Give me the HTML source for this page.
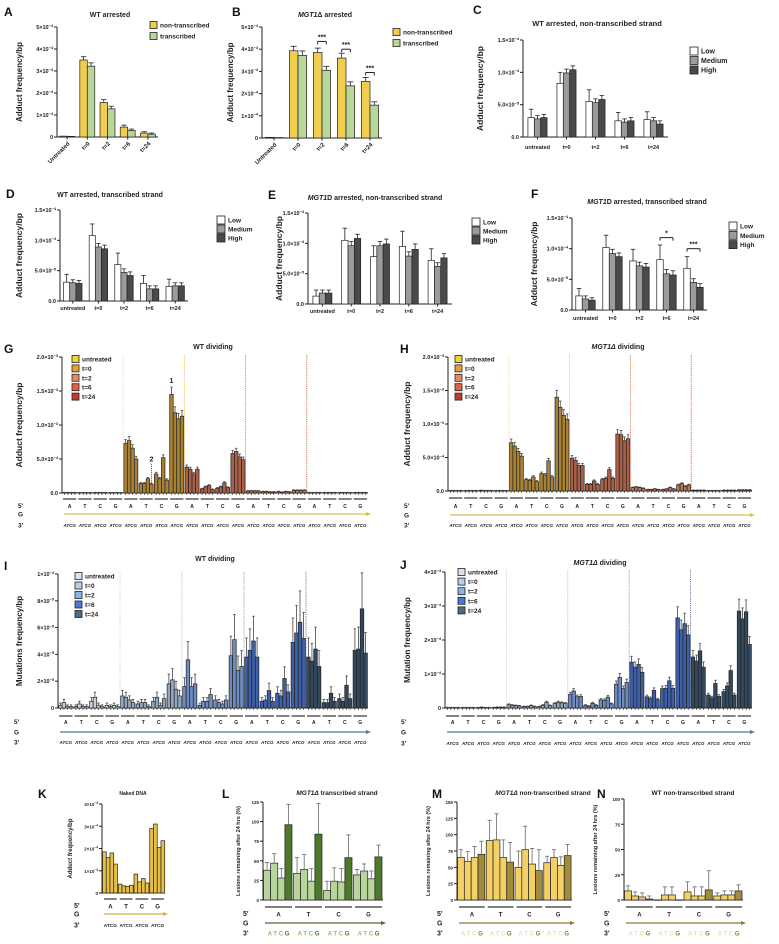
<!DOCTYPE html>
<html><head><meta charset="utf-8"><style>
html,body{margin:0;padding:0;background:#fff;}
svg{display:block;font-family:"Liberation Sans",Arial,sans-serif;}
</style></head><body>
<svg id="fig" width="779" height="944" viewBox="0 0 779 944"></svg>
<script>
// ---------- DATA ----------
const catsArr = ['Untreated','t=0','t=2','t=6','t=24'];
const catsLow = ['untreated','t=0','t=2','t=6','t=24'];
const tickA = [0,1,2,3,4,5];
const tickLabA = ['0','1×10^-4','2×10^-4','3×10^-4','4×10^-4','5×10^-4'];
const aNon = [0.04,3.5,1.57,0.45,0.18];
const aTr = [0.03,3.22,1.28,0.30,0.13];
const aNonErr = [0.01,0.15,0.13,0.09,0.06];
const aTrErr = [0.01,0.15,0.12,0.06,0.05];
const bNon = [0.03,3.93,3.85,3.6,2.55];
const bTr = [0.02,3.72,3.05,2.35,1.48];
const bNonErr = [0.01,0.2,0.2,0.22,0.18];
const bTrErr = [0.01,0.2,0.18,0.18,0.15];
const tickC = [0,5,10,15];
const tickLabC = ['0.0','5.0×10^-5','1.0×10^-4','1.5×10^-4'];
const cLow=[3.0,8.3,5.5,2.5,2.7], cMed=[2.8,9.9,5.3,2.3,2.5], cHigh=[3.0,10.4,5.8,2.5,2.0];
const cLowE=[1.3,1.7,1.8,1.3,1.2], cMedE=[0.5,0.6,0.6,0.5,0.5], cHighE=[0.5,0.6,0.6,0.5,0.5];
const dLow=[3.1,10.8,6.0,2.9,2.4], dMed=[3.0,8.9,4.7,2.0,2.5], dHigh=[2.9,8.6,4.2,2.0,2.5];
const dLowE=[1.3,1.9,1.9,1.3,1.2], dMedE=[0.5,0.6,0.6,0.5,0.5], dHighE=[0.5,0.6,0.6,0.5,0.5];
const eLow=[1.3,10.5,7.8,9.5,7.2], eMed=[1.8,9.6,9.6,7.9,6.2], eHigh=[1.8,10.8,9.9,9.0,7.6];
const eLowE=[1.0,2.0,1.8,2.5,1.9], eMedE=[0.5,0.7,0.7,0.7,0.6], eHighE=[0.5,0.7,0.8,0.9,0.7];
const fLow=[2.3,10.2,8.0,8.2,6.8], fMed=[1.8,9.2,7.2,5.9,4.5], fHigh=[1.6,8.7,7.0,5.7,3.7];
const fLowE=[1.2,2.0,1.9,2.4,1.9], fMedE=[0.5,0.7,0.6,0.7,0.6], fHighE=[0.4,0.6,0.6,0.7,0.6];

const tickG = [0,5,10,15,20];
const tickLabG = ['0.0','5.0×10^-4','1.0×10^-3','1.5×10^-3','2.0×10^-3'];
const gUntr=[0.05,0.05,0.05,0.05,0.04,0.04,0.04,0.04,0.05,0.05,0.05,0.05,0.04,0.04,0.04,0.04];
const gT0=[7.3,7.7,6.6,5.0,1.4,1.4,2.1,1.3,2.8,2.1,5.2,1.9,14.5,11.8,10.9,11.3];
const gT2=[3.8,3.5,2.8,3.5,0.6,0.9,1.1,0.5,0.7,0.9,1.5,0.8,5.8,6.1,5.3,4.9];
const gT6=[0.3,0.3,0.3,0.3,0.2,0.2,0.15,0.15,0.2,0.1,0.2,0.15,0.4,0.4,0.4,0.4];
const gT24=[0.05,0.05,0.05,0.05,0.05,0.05,0.05,0.05,0.05,0.05,0.05,0.05,0.05,0.05,0.05,0.05];
const hUntr=[0.05,0.05,0.05,0.05,0.05,0.05,0.05,0.05,0.08,0.05,0.05,0.05,0.05,0.05,0.05,0.05];
const hT0=[7.2,6.7,5.9,5.2,1.7,1.6,2.1,1.4,2.6,2.4,4.5,2.1,14.0,12.5,11.3,10.7];
const hT2=[4.9,4.6,3.8,3.8,1.0,1.0,1.5,1.0,1.7,1.9,3.2,1.9,8.5,8.4,7.5,7.8];
const hT6=[0.5,0.6,0.5,0.4,0.2,0.2,0.3,0.2,0.2,0.3,0.5,0.3,0.9,1.1,0.7,0.9];
const hT24=[0.1,0.1,0.1,0.1,0.05,0.05,0.05,0.05,0.1,0.1,0.1,0.1,0.15,0.15,0.15,0.15];
const tickI=[0,2,4,6,8,10];
const tickLabI=['0','2×10^-5','4×10^-5','6×10^-5','8×10^-5','1×10^-4'];
const iUntr=[0.2,0.4,0.1,0.1,0.1,0.3,0.1,0.1,0.5,0.8,0.2,0.1,0.2,0.1,0.2,0.1];
const iT0=[0.9,0.8,0.6,0.4,0.3,0.4,0.4,0.1,0.5,0.8,0.2,0.7,1.8,2.1,1.4,0.9];
const iT2=[1.6,3.6,1.6,1.8,0.2,0.5,0.5,1.0,0.6,0.4,0.3,0.6,3.9,5.1,2.8,3.1];
const iT6=[3.8,4.3,5.0,3.8,0.5,0.6,1.3,0.5,1.1,0.9,2.2,1.2,4.9,5.6,6.4,5.2];
const iT24=[3.8,3.5,4.4,3.1,0.4,0.4,1.1,0.5,0.7,0.5,1.7,0.7,4.3,4.4,7.4,4.1];
const tickJ=[0,1,2,3,4];
const tickLabJ=['0','1×10^-4','2×10^-4','3×10^-4','4×10^-4'];
const jUntr=[0.01,0.01,0.01,0.01,0.01,0.01,0.01,0.01,0.01,0.02,0.01,0.01,0.01,0.02,0.02,0.02];
const jT0=[0.1,0.08,0.07,0.06,0.04,0.04,0.07,0.04,0.04,0.08,0.17,0.07,0.13,0.17,0.15,0.14];
const jT2=[0.4,0.5,0.33,0.34,0.08,0.05,0.14,0.08,0.24,0.23,0.32,0.12,0.7,0.9,0.57,0.75];
const jT6=[1.35,1.2,1.28,1.05,0.33,0.28,0.52,0.25,0.57,0.58,0.8,0.58,2.65,2.3,2.48,2.15];
const jT24=[1.5,1.38,1.68,1.2,0.38,0.3,0.72,0.34,0.48,0.65,1.1,0.38,2.85,2.62,2.83,1.87];
const kVals=[1.85,1.6,1.8,1.3,0.4,0.32,0.3,0.35,0.85,0.5,0.65,0.45,2.9,3.1,2.05,2.35];
const tickK=[0,1,2,3,4];
const tickLabK=['0','1×10^-4','2×10^-4','3×10^-4','4×10^-4'];
const lVals=[38,47,28,96,34,39,24,84,12,24,23,54,32,37,27,55];
const lErr=[10,12,12,26,20,19,16,39,12,17,17,29,7,9,10,15];
const mVals=[65,59,65,70,91,92,65,58,50,77,55,45,57,65,53,68];
const mErr=[12,15,17,20,31,40,27,30,25,36,24,32,10,12,13,17];
const nVals=[9,4,3,1,0,5,5,0,8,4,4,10,4,5,5,9];
const nErr=[5,4,4,3,0,8,8,0,10,9,9,19,3,4,4,6];
const tickL=[0,25,50,75,100,125], tickM=[0,25,50,75,100,125,150], tickN=[0,25,50,75,100];

// ---------- HELPERS ----------
const NS='http://www.w3.org/2000/svg';
const svg=document.getElementById('fig');
function mk(tag,a,p){const e=document.createElementNS(NS,tag);for(const k in a)e.setAttribute(k,a[k]);(p||svg).appendChild(e);return e;}
function T(p,x,y,s,size,opt){opt=opt||{};const e=mk('text',{x:x,y:y,'font-size':size,'font-weight':opt.w||'bold','text-anchor':opt.a||'start',fill:opt.c||'#222'},p);
 if(opt.i)e.setAttribute('font-style','italic');if(opt.r!==undefined)e.setAttribute('transform','rotate('+opt.r+' '+x+' '+y+')');
 if(s.indexOf('^')>=0){const parts=s.split('^');const a=mk('tspan',{},e);a.textContent=parts[0];const b=mk('tspan',{dy:-size*0.4,'font-size':size*0.7},e);b.textContent=parts[1].replace('-','−');}
 else e.textContent=s;return e;}
function line(p,x1,y1,x2,y2,c,w,d){const e=mk('line',{x1:x1,y1:y1,x2:x2,y2:y2,stroke:c||'#222','stroke-width':w||1},p);if(d)e.setAttribute('stroke-dasharray',d);return e;}
function panelLabel(x,y,s){const e=T(svg,x,y,s,12,{c:'#111'});
 
 }
function title(p,x,y,parts,size){const e=mk('text',{x:x,y:y,'font-size':size||7,'font-weight':'bold','text-anchor':'middle',fill:'#222'},p);
 
 
 parts.forEach(pt=>{const s=mk('tspan',{},e);if(pt[1])s.setAttribute('font-style','italic');s.textContent=pt[0];});}
function yAxis(p,o,ticks,labs){const ys=v=>o.yb-(v/o.max)*(o.yb-o.yt);
 const ax=line(p,o.x0,o.yb,o.x0,ys(ticks[ticks.length-1]),'#222',1);
 
 
 ticks.forEach((t,i)=>{line(p,o.x0-3,ys(t),o.x0,ys(t));const l=T(p,o.x0-4,ys(t)+2,labs[i],o.tf||5.5,{a:'end'});
  
  });
 const xa=line(p,o.x0,o.yb,o.x1,o.yb,'#222',1);
 
 
 const yt=T(p,o.ytx,(o.yb+o.yt)/2,o.ytitle,o.ytf||8,{a:'middle',r:-90});
 
 
 return ys;}
function bar(p,x,y0,y1,w,fill,name){const r=mk('rect',{x:x,y:Math.min(y0,y1),width:w,height:Math.max(0.3,Math.abs(y0-y1)),fill:fill,stroke:'#222','stroke-width':0.7},p);
 
 return r;}
function err(p,cx,ytop,yerr,cap,c){if(Math.abs(ytop-yerr)<0.3)return;line(p,cx,ytop,cx,yerr,c||'#222',0.8);line(p,cx-cap,yerr,cx+cap,yerr,c||'#222',0.8);}
function legend(p,x,y,step,labels,colors,size,fs){labels.forEach((l,i)=>{const g=mk('g',{},p);
 
 
 mk('rect',{x:x,y:y+i*step-size/2,width:size,height:size,fill:colors[i],stroke:'#222','stroke-width':0.8},g);
 T(g,x+size+3,y+i*step+fs*0.38,l,fs,{});});}
function group(name){const g=mk('g',{});
 
 return g;}

// ---------- SIMPLE GROUPED CHARTS ----------
function simple(o){const g=group(o.name);
 const ys=yAxis(g,o,o.ticks,o.tlabs);
 const n=o.cats.length,k=o.series.length,gw=(o.x1-o.x0)/n,bw=gw*o.bwf;
 o.cats.forEach((c,i)=>{const cx=o.x0+gw*(i+0.5);
  line(g,cx,o.yb,cx,o.yb+2.5);
  const cl=o.rot?T(g,cx+3,o.yb+7,c,6,{a:'end',r:-45}):T(g,cx,o.catY,c,5.5,{a:'middle'});
  
  
  o.series.forEach((s,j)=>{const x=cx-k*bw/2+j*bw;
   bar(g,x,ys(0),ys(s[i]),bw,o.colors[j],'bar-'+o.snames[j]+'-'+c);
   err(g,x+bw/2,ys(s[i]),ys(s[i]+o.errs[j][i]),bw*0.35);});});
 (o.sig||[]).forEach(sg=>{const cx=o.x0+gw*(sg[0]+0.5);const xa=cx-k*bw/2+bw/2,xb=cx-k*bw/2+(sg[2])*bw+bw/2;const yy=ys(sg[3]);
  line(g,xa,yy+3,xa,yy);line(g,xa,yy,xb,yy);line(g,xb,yy,xb,yy+3);
  const st=T(g,(xa+xb)/2,yy-2,sg[1],7,{a:'middle'});
  
  });
 return g;}

const yel='#f0cd4e',grn='#b8d59a';
panelLabel(4,16,'A');
let gA=simple({name:'chart-a',x0:57,x1:158,yb:137,yt:27,max:5,ticks:tickA,tlabs:tickLabA,cats:catsArr,series:[aNon,aTr],errs:[aNonErr,aTrErr],colors:[yel,grn],snames:['non-transcribed','transcribed'],bwf:0.37,rot:true,ytx:22,ytitle:'Adduct frequency/bp'});
title(gA,110,17,[['WT arrested',0]],7);
legend(gA,150,25,11,['non-transcribed','transcribed'],[yel,grn],7,6.5);

panelLabel(232,16,'B');
let gB=simple({name:'chart-b',x0:262,x1:382,yb:138,yt:27,max:5,ticks:tickA,tlabs:tickLabA,cats:catsArr,series:[bNon,bTr],errs:[bNonErr,bTrErr],colors:[yel,grn],snames:['non-transcribed','transcribed'],bwf:0.36,rot:true,ytx:233,ytitle:'Adduct frequency/bp',
 sig:[[2,'***',1,4.35],[3,'***',1,4.0],[4,'***',1,2.95]]});
title(gB,325,17,[['MGT1',1],['Δ arrested',0]],7);
legend(gB,393,32,11,['non-transcribed','transcribed'],[yel,grn],7,6.5);

const lmh=['Low','Medium','High'],lmhC=['#ffffff','#9b9b9b','#4a4a4a'];
panelLabel(473,14,'C');
let gC=simple({name:'chart-c',x0:523,x1:668,yb:137,yt:40,max:15,ticks:tickC,tlabs:tickLabC,cats:catsLow,series:[cLow,cMed,cHigh],errs:[cLowE,cMedE,cHighE],colors:lmhC,snames:['low','medium','high'],bwf:0.22,catY:149,ytx:483,ytitle:'Adduct frequency/bp',ytf:8.5});
title(gC,597,26,[['WT arrested, non-transcribed strand',0]],7.5);
legend(gC,690,51,9.5,lmh,lmhC,8,7);

panelLabel(6,198,'D');
let gD=simple({name:'chart-d',x0:60,x1:188,yb:301,yt:210,max:15,ticks:tickC,tlabs:tickLabC,cats:catsLow,series:[dLow,dMed,dHigh],errs:[dLowE,dMedE,dHighE],colors:lmhC,snames:['low','medium','high'],bwf:0.24,catY:310,ytx:22,ytitle:'Adduct frequency/bp',ytf:8.5});
title(gD,110,197,[['WT arrested, transcribed strand',0]],7);
legend(gD,217,220,9,lmh,lmhC,8,6.5);

panelLabel(268,199,'E');
let gE=simple({name:'chart-e',x0:308,x1:452,yb:304,yt:213,max:15,ticks:tickC,tlabs:tickLabC,cats:catsLow,series:[eLow,eMed,eHigh],errs:[eLowE,eMedE,eHighE],colors:lmhC,snames:['low','medium','high'],bwf:0.22,catY:313,ytx:282,ytitle:'Adduct frequency/bp',ytf:8.5});
title(gE,375,200,[['MGT1',1],['D arrested, non-transcribed strand',0]],7);
legend(gE,472,222,9,lmh,lmhC,8,6.5);

panelLabel(531,198,'F');
let gF=simple({name:'chart-f',x0:572,x1:707,yb:310,yt:218,max:15,ticks:tickC,tlabs:tickLabC,cats:catsLow,series:[fLow,fMed,fHigh],errs:[fLowE,fMedE,fHighE],colors:lmhC,snames:['low','medium','high'],bwf:0.24,catY:320,ytx:537,ytitle:'Adduct frequency/bp',ytf:8.5,
 sig:[[3,'*',2,11.8],[4,'***',2,10.0]]});
title(gF,647,204,[['MGT1',1],['D arrested, transcribed strand',0]],7);
legend(gF,729,226,9.3,lmh,lmhC,8,6.5);

// ---------- LONG CHARTS ----------
const bases=['A','T','C','G'];
function rows(g,x0,x1,ngroups,uy,y5,yg,y3,arrowC){
 const gw=(x1-x0)/ngroups;
 T(g,x0-44,y5+2,"5'",6.5,{});T(g,x0-44,yg+2.5,'G',6.5,{});T(g,x0-44,y3+2.5,"3'",6.5,{});
 for(let i=0;i<ngroups;i++){const a=x0+gw*i+1,b=x0+gw*(i+1)-1;line(g,a,uy,b,uy,'#333',1.2);
  T(g,(a+b)/2,y5+2,bases[i%4],5,{a:'middle'});
  T(g,(a+b)/2,y3+2,'ATCG',4.5,{a:'middle',i:true});
 }
 const ar=line(g,x0+2,yg,x1,yg,arrowC,1.2);
 
 
 mk('polygon',{points:(x1+3)+','+yg+' '+(x1-2)+','+(yg-2)+' '+(x1-2)+','+(yg+2),fill:arrowC},g);
}
function longChart(o){const g=group(o.name);
 const ys=yAxis(g,o,o.ticks,o.tlabs);
 const all=[o.s0,o.s1,o.s2,o.s3,o.s4];const ng=20,gw=(o.x1-o.x0)/ng,bw=gw/4*0.92;
 all.forEach((s,si)=>{s.forEach((v,k)=>{const gi=si*4+Math.floor(k/4),bi=k%4;
  const x=o.x0+gw*gi+0.6+bi*bw;
  bar(g,x,ys(0),ys(v),bw,o.barC[si],'bar-'+o.secNames[si]+'-'+bases[Math.floor(k/4)]+'-'+bases[bi]);
  line(g,x+bw/2,o.yb,x+bw/2,o.yb+2,'#222',0.6);
  err(g,x+bw/2,ys(v),ys(v+v*o.ef+o.emin),bw*0.35,'#444');});});
 [4,8,12,16].forEach((gi,k)=>{const x=o.x0+gw*gi;const d=line(g,x,o.yt-2,x,o.yb,o.divC[k],0.8,'1.2,1');
  
  });
 rows(g,o.x0,o.x1,ng,o.uy,o.y5,o.yg,o.y3,o.arrowC);
 legend(g,o.lx,o.ly,o.lstep,['untreated','t=0','t=2','t=6','t=24'],o.legC,7,6.5);
 return {g:g,ys:ys,gw:gw,bw:bw};}

const secN=['untreated','t0','t2','t6','t24'];
const redLeg=['#f0d23a','#e8a232','#e98a64','#e06440','#c43a2a'];
const redBar=['#e8c94a','#a88132','#a86048','#b8785e','#b86050'];
panelLabel(4,353,'G');
let G=longChart({name:'chart-g',x0:62,x1:368,yb:493,yt:357,max:20,ticks:tickG,tlabs:tickLabG,ytx:22,ytitle:'Adduct frequency/bp',ytf:8.5,
 s0:gUntr,s1:gT0,s2:gT2,s3:gT6,s4:gT24,barC:redBar,secNames:secN,ef:0.07,emin:0.05,divC:['#e8dca0','#e8c040','#d06a40','#d04a30'],
 uy:499,y5:506,yg:514,y3:525,arrowC:'#d8c050',lx:72,ly:359,lstep:9.4,legC:redLeg});
title(G.g,213,349,[['WT dividing',0]],7);
{const x=62+G.gw*7+0.6+G.bw*0.5;const l=T(G.g,x,G.ys(16.2),'1',7,{a:'middle'});
 const x2=62+G.gw*5+0.6+G.bw*3.5;line(G.g,x2,G.ys(1.5),x2,G.ys(4.3),'#222',0.8,'1,1');const l2=T(G.g,x2,G.ys(4.6),'2',7,{a:'middle'});}

panelLabel(400,353,'H');
let H=longChart({name:'chart-h',x0:448,x1:752,yb:491,yt:357,max:20,ticks:tickG,tlabs:tickLabG,ytx:410,ytitle:'Adduct frequency/bp',ytf:8.5,
 s0:hUntr,s1:hT0,s2:hT2,s3:hT6,s4:hT24,barC:redBar,secNames:secN,ef:0.07,emin:0.05,divC:['#e8dca0','#e8c040','#d06a40','#d04a30'],
 uy:498,y5:506,yg:515,y3:525,arrowC:'#d8c050',lx:455,ly:359,lstep:9.4,legC:redLeg});
title(H.g,618,349,[['MGT1Δ',1],[' dividing',0]],7);

const bluLeg=['#d8e4f0','#b5cfec','#8cb2e6','#4a7ad8','#4d6c88'];
const bluBar=['#c5d2e0','#93a6bf','#6d8cc0','#3e60a8','#33495e'];
panelLabel(4,570,'I');
let I=longChart({name:'chart-i',x0:58,x1:368,yb:708,yt:574,max:10,ticks:tickI,tlabs:tickLabI,ytx:22,ytitle:'Mutations frequency/bp',ytf:8,
 s0:iUntr,s1:iT0,s2:iT2,s3:iT6,s4:iT24,barC:bluBar,secNames:secN,ef:0.35,emin:0.1,divC:['#c8ccd4','#b0b8c4','#8090a8','#506088'],
 uy:716,y5:722,yg:732,y3:742,arrowC:'#5a7890',lx:75,ly:576,lstep:9.5,legC:bluLeg});
title(I.g,215,561,[['WT dividing',0]],7);

panelLabel(400,569,'J');
let J=longChart({name:'chart-j',x0:445,x1:752,yb:708,yt:572,max:4,ticks:tickJ,tlabs:tickLabJ,ytx:410,ytitle:'Mutation frequency/bp',ytf:8,
 s0:jUntr,s1:jT0,s2:jT2,s3:jT6,s4:jT24,barC:bluBar,secNames:secN,ef:0.12,emin:0.01,divC:['#c8ccd4','#b0b8c4','#8090a8','#506088'],
 uy:716,y5:722,yg:732,y3:743,arrowC:'#5a7890',lx:458,ly:572,lstep:9.6,legC:bluLeg});
title(J.g,600,565,[['MGT1Δ',1],[' dividing',0]],7);

// ---------- SMALL 16-BAR CHARTS ----------
function small(o){const g=group(o.name);
 const ys=yAxis(g,o,o.ticks,o.tlabs);
 const gw=(o.x1-o.x0)/4,bw=gw/4*0.95;
 o.vals.forEach((v,k)=>{const gi=Math.floor(k/4),bi=k%4;const x=o.x0+gw*gi+0.5+bi*bw;
  bar(g,x,ys(0),ys(v),bw,o.colors[bi],'bar-'+bases[gi]+'-'+bases[bi]);
  if(o.errs)err(g,x+bw/2,ys(v),ys(v+o.errs[k]),bw*0.3,'#666');});
 T(g,o.x0-o.lo,o.y5+2,"5'",7,{});T(g,o.x0-o.lo,o.yg+2.5,'G',7,{});T(g,o.x0-o.lo,o.y3+2.5,"3'",7,{});
 for(let i=0;i<4;i++){const a=o.x0+gw*i+2,b=o.x0+gw*(i+1)-1;line(g,a,o.uy,b,o.uy,'#333',1.2);T(g,(a+b)/2,o.y5+2.5,bases[i],6,{a:'middle'});
  if(o.three==='plain')T(g,(a+b)/2,o.y3+2,'ATCG',4.8,{a:'middle'});
  else{const t=mk('text',{x:(a+b)/2,y:o.y3+2.5,'font-size':6,'font-weight':'bold','text-anchor':'middle'},g);
   
   
   ['A','T','C','G'].forEach((ch,j)=>{const s=mk('tspan',{fill:j<3?o.light:o.dark},t);s.textContent=(j?' ':'')+ch;});}}
 const ar=line(g,o.x0+2,o.yg,o.x1,o.yg,o.arrowC,1.2);
 
 
 mk('polygon',{points:(o.x1+3)+','+o.yg+' '+(o.x1-2)+','+(o.yg-2)+' '+(o.x1-2)+','+(o.yg+2),fill:o.arrowC},g);
 return g;}

panelLabel(38,798,'K');
let gK=small({name:'chart-k',x0:102,x1:165,yb:893,yt:804,max:4,ticks:tickK,tlabs:tickLabK,ytx:72,ytitle:'Adduct frequency/bp',ytf:6,tf:4.5,
 vals:kVals,colors:['#e8c045','#e8c045','#e8c045','#e8c045'],lo:28,uy:899,y5:906,yg:914,y3:925,three:'plain',arrowC:'#d8b040'});
title(gK,133,795,[['Naked DNA',0]],5);

const lg='#b8d69b',dg='#4d7a2a';
panelLabel(222,798,'L');
let gL=small({name:'chart-l',x0:263,x1:383,yb:900,yt:802,max:125,ticks:tickL,tlabs:tickL.map(String),ytx:240,ytitle:'Lesions remaining after 24 hrs (%)',ytf:5.5,tf:4.5,
 vals:lVals,errs:lErr,colors:[lg,lg,lg,dg],lo:20,uy:907,y5:914,yg:923,y3:933,three:'color',light:'#8bc070',dark:'#4d7a2a',arrowC:'#4d6a3a'});
title(gL,337,795,[['MGT1Δ',1],[' transcribed strand',0]],6.5);

const ly='#f3d166',dy='#a08c3c';
panelLabel(432,798,'M');
let gM=small({name:'chart-m',x0:457,x1:572,yb:900,yt:802,max:150,ticks:tickM,tlabs:tickM.map(String),ytx:430,ytitle:'Lesions remaining after 24 hrs (%)',ytf:5.5,tf:4.5,
 vals:mVals,errs:mErr,colors:[ly,ly,ly,dy],lo:20,uy:907,y5:914,yg:923,y3:933,three:'color',light:'#eee0a8',dark:'#8a7a30',arrowC:'#8a7a30'});
title(gM,543,795,[['MGT1Δ',1],[' non-transcribed strand',0]],6.5);

panelLabel(597,798,'N');
let gN=small({name:'chart-n',x0:624,x1:743,yb:900,yt:799,max:100,ticks:tickN,tlabs:tickN.map(String),ytx:597,ytitle:'Lesions remaining after 24 hrs (%)',ytf:5.5,tf:4.5,
 vals:nVals,errs:nErr,colors:[ly,ly,ly,dy],lo:20,uy:907,y5:914,yg:923,y3:933,three:'color',light:'#eee0a8',dark:'#8a7a30',arrowC:'#8a7a30'});
title(gN,693,795,[['WT non-transcribed strand',0]],6.5);
</script>
</body></html>
